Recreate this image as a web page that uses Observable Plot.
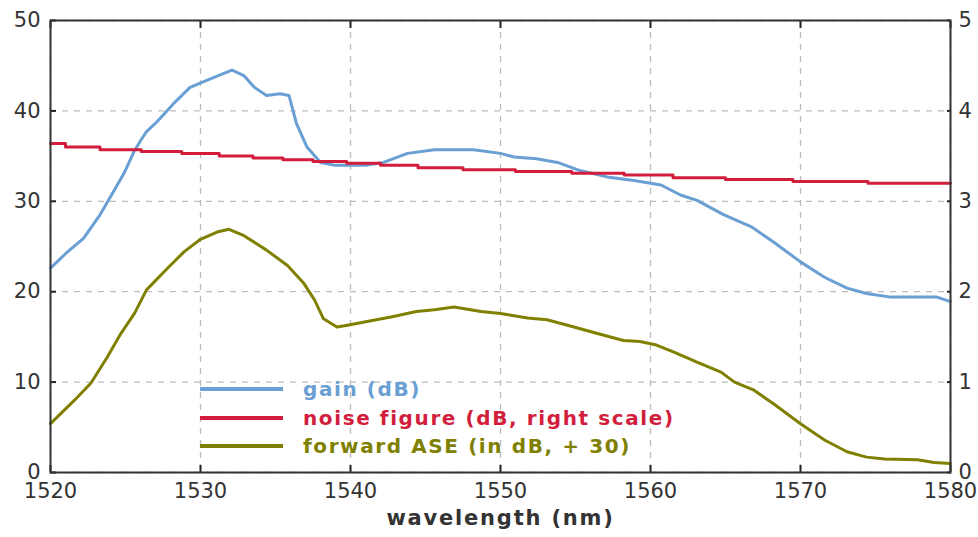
<!DOCTYPE html>
<html>
<head>
<meta charset="utf-8">
<script src="https://cdn.jsdelivr.net/npm/d3@7"></script>
<script src="https://cdn.jsdelivr.net/npm/@observablehq/plot@0.6"></script>
<style>
  html, body { margin: 0; padding: 0; background: #fff; }
  #wrap { position: relative; width: 978px; height: 537px; font-family: "DejaVu Sans", Verdana, sans-serif; }
  #legend { position: absolute; left: 200px; top: 375px; }
  .row { display: flex; align-items: center; height: 28.5px; }
  .swatch { width: 83px; height: 4px; margin-right: 20px; }
  .lab { font-weight: bold; font-size: 20px; letter-spacing: 1.6px; white-space: nowrap; }
</style>
</head>
<body>
<div id="wrap"><div id="legend"></div></div>
<script>
// Wavelength axis (nm) and tick values
const xTicks = [1520, 1530, 1540, 1550, 1560, 1570, 1580];
const yTicks = [0, 10, 20, 30, 40, 50];

// Small-signal gain (dB) of the fibre amplifier
const gainWl = [1520, 1521, 1522.2, 1523.3, 1524, 1524.9, 1525.6, 1526, 1526.4, 1527.1, 1528.2, 1529.3, 1530.9, 1532.1, 1532.9, 1533.6, 1534.4, 1535.3, 1535.9, 1536.4, 1537.1, 1538, 1538.9, 1540.4, 1541.1, 1542.2, 1543.8, 1545.6, 1548.2, 1550, 1550.9, 1552.4, 1553.8, 1555.3, 1557.1, 1558.9, 1560.7, 1562, 1563.1, 1564.9, 1566.7, 1568.2, 1570, 1571.6, 1573.1, 1574.4, 1576, 1579.1, 1580];
const gainDb = [22.6, 24.2, 25.9, 28.5, 30.5, 33.1, 35.6, 36.7, 37.7, 38.8, 40.8, 42.6, 43.7, 44.5, 43.9, 42.6, 41.7, 41.9, 41.7, 38.6, 36.0, 34.3, 34.0, 34.0, 34.0, 34.3, 35.3, 35.7, 35.7, 35.3, 34.9, 34.7, 34.3, 33.4, 32.7, 32.3, 31.8, 30.7, 30.1, 28.5, 27.2, 25.5, 23.3, 21.6, 20.4, 19.8, 19.4, 19.4, 18.9];

// Noise figure (dB), plotted against the right-hand scale
const nfWl = [1520, 1522, 1524.6, 1527.5, 1530, 1532.5, 1534.5, 1536.5, 1538.5, 1541, 1543, 1546, 1549, 1553, 1556.5, 1560, 1563, 1567, 1572, 1577, 1580];
const nfDb = [3.64, 3.60, 3.57, 3.55, 3.53, 3.50, 3.48, 3.46, 3.44, 3.42, 3.40, 3.37, 3.35, 3.33, 3.31, 3.29, 3.26, 3.24, 3.22, 3.20, 3.20];

// Forward ASE power spectral density (dB, offset by +30)
const aseWl = [1520, 1521.6, 1522.7, 1523.8, 1524.7, 1525.6, 1526.4, 1527.8, 1528.9, 1530, 1531.1, 1531.9, 1532.9, 1534.4, 1535.8, 1536.9, 1537.6, 1538.2, 1539.1, 1539.8, 1541.1, 1542.7, 1544.4, 1545.6, 1546.9, 1548.7, 1550, 1551.8, 1553.1, 1554.9, 1556.4, 1558.2, 1559.3, 1560.4, 1561.6, 1563.1, 1564.7, 1565.6, 1566.9, 1568.2, 1570, 1571.6, 1573.1, 1574.4, 1575.6, 1577.8, 1578.9, 1580];
const aseDb = [5.4, 8.0, 9.9, 12.8, 15.4, 17.6, 20.2, 22.6, 24.4, 25.8, 26.6, 26.9, 26.2, 24.6, 22.9, 20.9, 19.1, 17.0, 16.1, 16.3, 16.7, 17.2, 17.8, 18.0, 18.3, 17.8, 17.6, 17.1, 16.9, 16.1, 15.4, 14.6, 14.5, 14.1, 13.3, 12.2, 11.1, 10.0, 9.1, 7.6, 5.4, 3.6, 2.3, 1.7, 1.5, 1.4, 1.1, 1.0];

// Series names and colours
const seriesNames = ["gain (dB)", "noise figure (dB, right scale)", "forward ASE (in dB, + 30)"];
const seriesColors = ["#6a9fd4", "#d21e3c", "#808000"];

// Right scale spans 0–5 while the left spans 0–50
const rightFactor = 10;

const gain = gainWl.map((x, i) => ({x, y: gainDb[i]}));
const nf = nfWl.map((x, i) => ({x, y: nfDb[i] * rightFactor}));
const ase = aseWl.map((x, i) => ({x, y: aseDb[i]}));

const font = '"DejaVu Sans", Verdana, sans-serif';
const tickStyle = {stroke: "#222", strokeWidth: 2, label: null, tickFormat: () => ""};

const chart = Plot.plot({
  width: 978,
  height: 537,
  marginLeft: 50,
  marginRight: 28,
  marginTop: 20,
  marginBottom: 65,
  style: {fontFamily: font, fontSize: "21px", color: "#333", background: "#fff"},
  x: {domain: [1520, 1580]},
  y: {domain: [0, 50]},
  marks: [
    Plot.gridX(xTicks, {stroke: "#bdbdbd", strokeOpacity: 1, strokeDasharray: "6,6", strokeWidth: 1.3}),
    Plot.gridY(yTicks, {stroke: "#bdbdbd", strokeOpacity: 1, strokeDasharray: "6,6", strokeWidth: 1.3}),
    Plot.line(gain, {x: "x", y: "y", stroke: seriesColors[0], strokeWidth: 3}),
    Plot.line(nf, {x: "x", y: "y", stroke: seriesColors[1], strokeWidth: 3, curve: "step"}),
    Plot.line(ase, {x: "x", y: "y", stroke: seriesColors[2], strokeWidth: 3}),
    // bottom axis labels
    Plot.axisX({anchor: "bottom", ticks: xTicks, tickSize: 0, tickPadding: 11, tickFormat: d => String(d), label: null, fill: "#333", fontSize: 21}),
    // inward tick marks on all four sides
    Plot.axisX({anchor: "bottom", ticks: xTicks, tickSize: 7, dy: -7, ...tickStyle}),
    Plot.axisX({anchor: "top", ticks: xTicks, tickSize: 7, dy: 7, ...tickStyle}),
    Plot.axisY({anchor: "left", ticks: yTicks, tickSize: 6, dx: 6, ...tickStyle}),
    Plot.axisY({anchor: "right", ticks: yTicks, tickSize: 4, dx: -4, ...tickStyle}),
    // left scale labels
    Plot.axisY({anchor: "left", ticks: yTicks, tickSize: 0, tickPadding: 10, label: null, fill: "#333", fontSize: 21}),
    // right scale labels (noise figure)
    Plot.axisY({anchor: "right", ticks: yTicks, tickSize: 0, tickPadding: 8, tickFormat: d => String(d / rightFactor), label: null, fill: "#333", fontSize: 21}),
    Plot.frame({stroke: "#333", strokeWidth: 2}),
    Plot.text(["wavelength (nm)"], {frameAnchor: "bottom", dy: 52, fontWeight: "bold", fontSize: 21, fill: "#333"})
  ]
});

d3.select(chart).selectAll("text")
  .filter(function () { return this.textContent === "wavelength (nm)"; })
  .style("letter-spacing", "1.8px");

const wrap = document.getElementById("wrap");
wrap.insertBefore(chart, wrap.firstChild);

// Legend inside the plot area
const legend = d3.select("#legend");
seriesNames.forEach((name, i) => {
  const row = legend.append("div").attr("class", "row");
  row.append("div").attr("class", "swatch").style("background", seriesColors[i]);
  row.append("span").attr("class", "lab").style("color", seriesColors[i]).text(name);
});
</script>
</body>
</html>
